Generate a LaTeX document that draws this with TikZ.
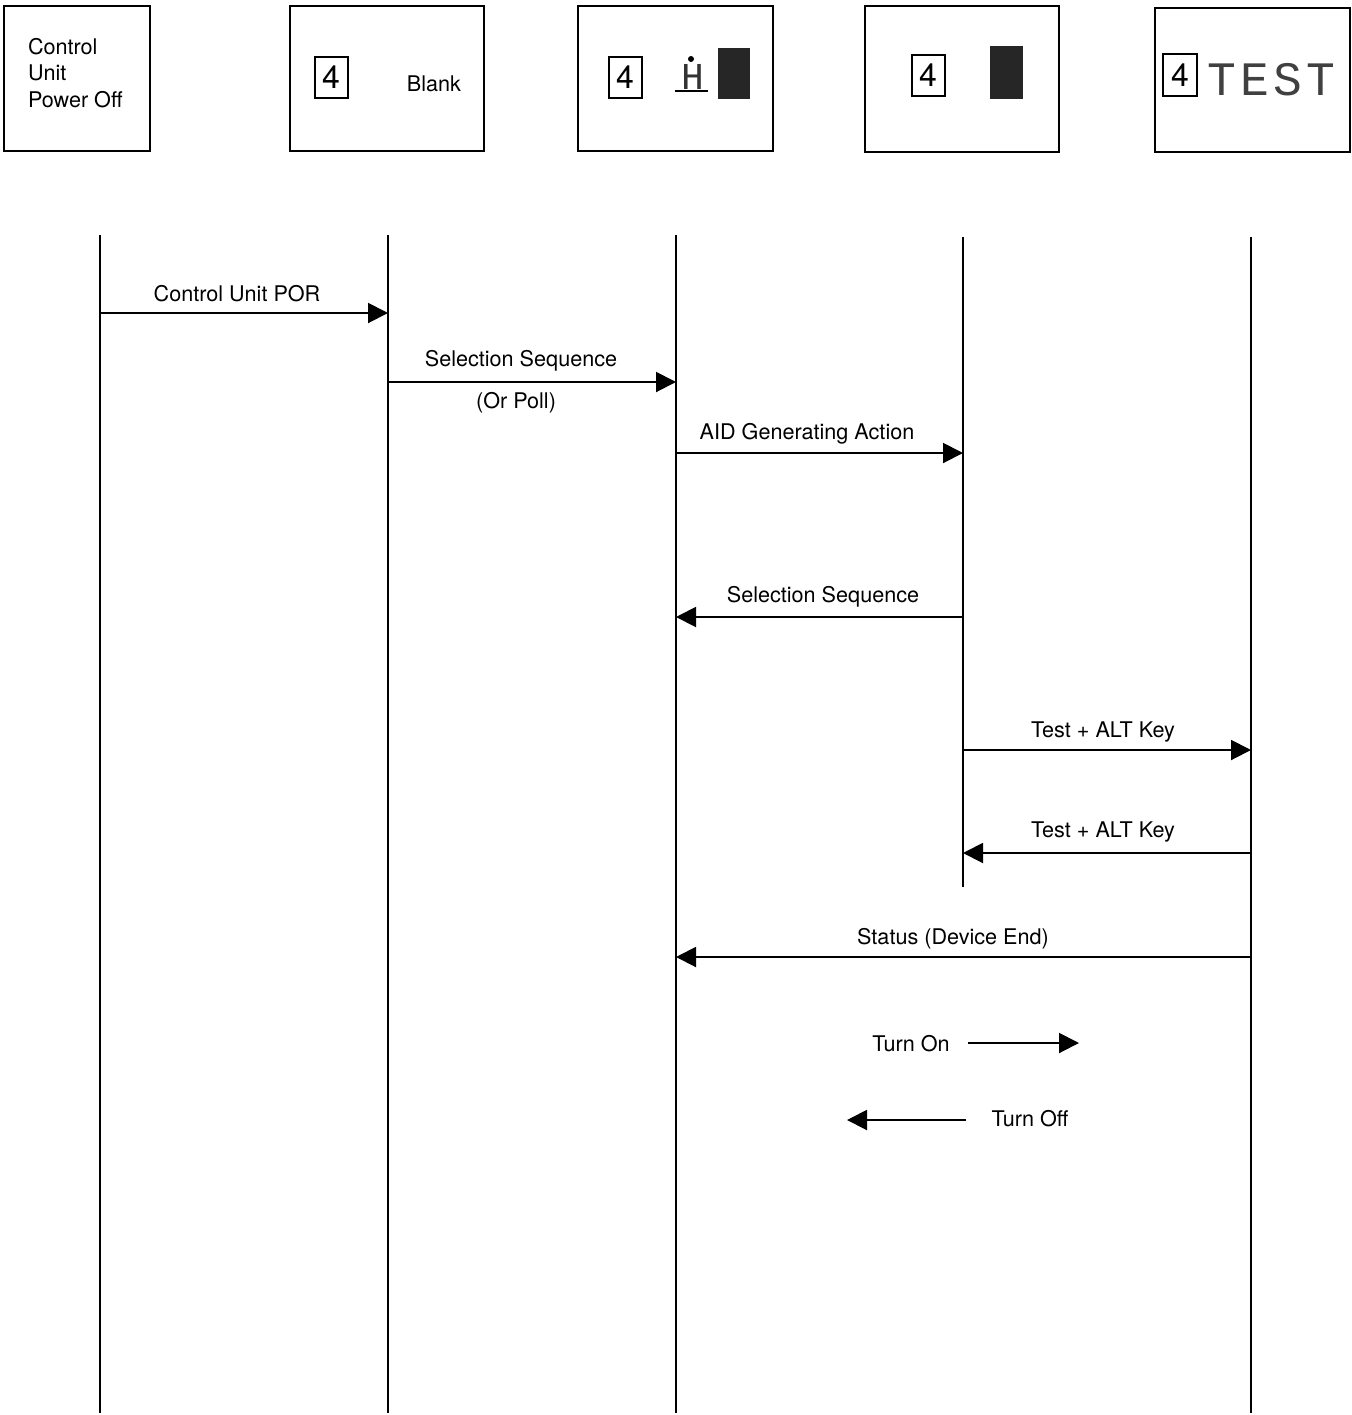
\documentclass[tikz,border=0pt]{standalone}
\usepackage{fontspec}
\setmainfont{TeX Gyre Heros}
\newfontfamily\dotfont[LetterSpace=9]{Liberation Mono}
\usetikzlibrary{arrows.meta}

\begin{document}
\begin{tikzpicture}[x=0.5pt,y=-0.5pt,line width=1pt,font=\fontsize{10.8}{13}\selectfont,
  screen/.style={draw,line width=1pt,inner sep=0pt},
  digit/.style={draw,line width=1pt,minimum width=16.5pt,minimum height=20.5pt,inner sep=0pt,font=\fontsize{16}{16}\selectfont},
  msg/.style={-{Triangle[length=10pt,width=10pt]}}]
  \useasboundingbox (0,0) rectangle (1351,1415);
  % screens
  \node[screen,minimum width=73pt,minimum height=72.5pt] (s1) at (77,78.5) {};
  \node[screen,minimum width=97pt,minimum height=72.5pt] (s2) at (387,78.5) {};
  \node[screen,minimum width=97.5pt,minimum height=72.5pt] (s3) at (675.5,78.5) {};
  \node[screen,minimum width=97pt,minimum height=73pt] (s4) at (962,79) {};
  \node[screen,minimum width=97.5pt,minimum height=72pt] (s5) at (1252.5,80) {};
  \node[anchor=west,align=left,inner sep=0pt,font=\fontsize{10.8}{13.3}\selectfont] (off) at (27,73) {Control\\Unit\\Power Off};
  \node[digit] (d2) at (331,77) {4};  \node (blank) at (434,84) {Blank};
  \node[digit] (d3) at (625,77) {4};
  \node[anchor=base,inner sep=0pt,text=black!80,font=\dotfont\fontsize{19}{19}\selectfont] (h) at (693,89) {H};
  \fill (691,59) circle (1.5pt);
  \draw (675,91) -- (708,91);
  \fill[black!85] (718,48) rectangle (750,99);
  \node[digit] (d4) at (928,75) {4};
  \fill[black!85] (990,46) rectangle (1023,99);
  \node[digit,minimum width=17pt,minimum height=21pt] (d5) at (1180,75) {4};
  \node[anchor=base west,inner sep=0pt,text=black!75,font=\dotfont\fontsize{24}{24}\selectfont] (test) at (1206,95) {TEST};
  % lifelines
  \coordinate (l1 top) at (100,235);  \coordinate (l1 bot) at (100,1413);
  \coordinate (l2 top) at (388,235);  \coordinate (l2 bot) at (388,1413);
  \coordinate (l3 top) at (676,235);  \coordinate (l3 bot) at (676,1413);
  \coordinate (l4 top) at (963,237);  \coordinate (l4 bot) at (963,887);
  \coordinate (l5 top) at (1251,237); \coordinate (l5 bot) at (1251,1413);
  \foreach \l in {l1,l2,l3,l4,l5} \draw (\l\space top) -- (\l\space bot);
  % messages
  \coordinate (por a) at (100,313);  \coordinate (por b) at (388,313);
  \draw[msg] (por a) -- (por b);
  \node (por) at (237,294) {Control Unit POR};
  \coordinate (sel a) at (388,382);  \coordinate (sel b) at (676,382);
  \draw[msg] (sel a) -- (sel b);
  \node (sel) at (521,361) {Selection Sequence};
  \node (poll) at (516,403) {(Or Poll)};
  \coordinate (aid a) at (676,453);  \coordinate (aid b) at (963,453);
  \draw[msg] (aid a) -- (aid b);
  \node (aid) at (807,434) {AID Generating Action};
  \coordinate (sel2 a) at (963,617); \coordinate (sel2 b) at (676,617);
  \draw[msg] (sel2 a) -- (sel2 b);
  \node (sel2) at (823,597) {Selection Sequence};
  \coordinate (key a) at (963,750);  \coordinate (key b) at (1251,750);
  \draw[msg] (key a) -- (key b);
  \node (key) at (1103,732) {Test + ALT Key};
  \coordinate (key2 a) at (1251,853); \coordinate (key2 b) at (963,853);
  \draw[msg] (key2 a) -- (key2 b);
  \node (key2) at (1103,832) {Test + ALT Key};
  \coordinate (de a) at (1251,957);  \coordinate (de b) at (676,957);
  \draw[msg] (de a) -- (de b);
  \node (de) at (953,939) {Status (Device End)};
  % legend
  \node (on) at (911,1044) {Turn On};
  \coordinate (on a) at (968,1043);  \coordinate (on b) at (1079,1043);
  \draw[msg] (on a) -- (on b);
  \node (offl) at (1030,1119) {Turn Off};
  \coordinate (off a) at (966,1120); \coordinate (off b) at (847,1120);
  \draw[msg] (off a) -- (off b);
\end{tikzpicture}
\end{document}
